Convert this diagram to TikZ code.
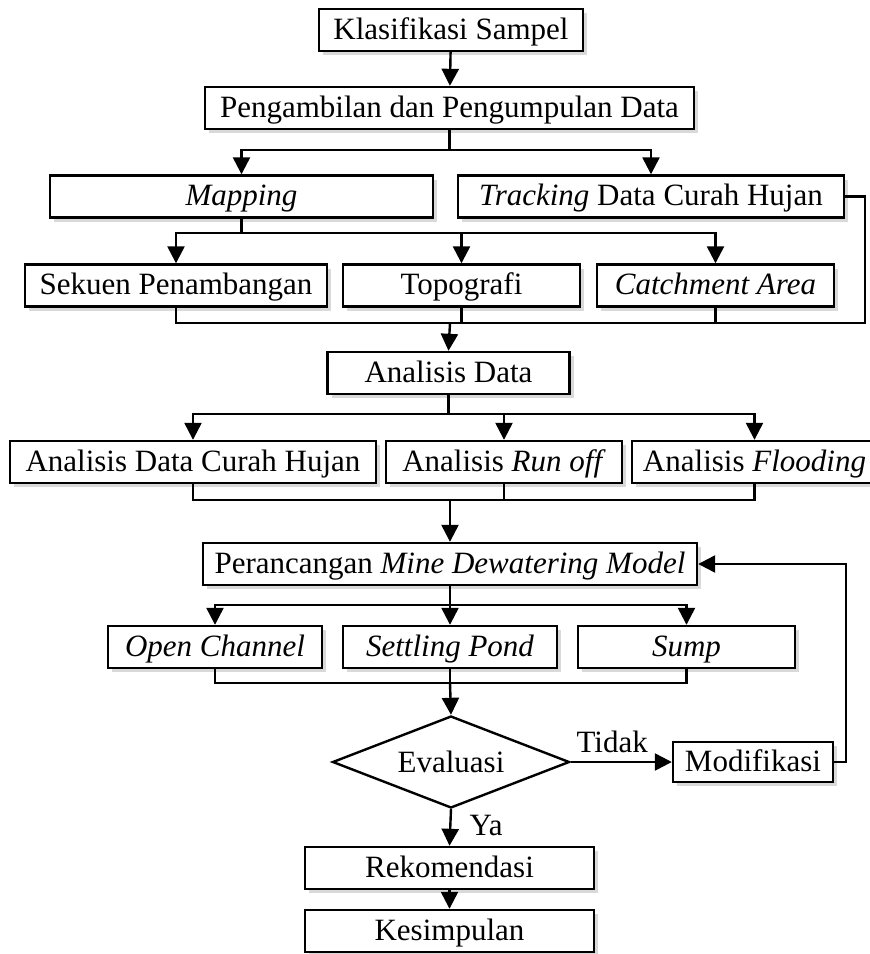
\documentclass[tikz,border=0pt]{standalone}
\usepackage{fontspec}
\setmainfont{Liberation Serif}
\usepackage{tikz}
\usetikzlibrary{arrows.meta,positioning,shapes.geometric,shadows,calc}
\newcommand{\istilah}[1]{\textit{#1}}
\tikzset{
  blok/.style={draw,line width=1.2pt,fill=white,align=center,minimum height=21pt,
    inner sep=2pt,text height=10.5pt,text depth=1.5pt,font=\fontsize{15.5}{18}\selectfont,
    drop shadow={shadow xshift=2pt,shadow yshift=-2pt,opacity=0.3}},
  keputusan/.style={diamond,draw,line width=1.2pt,fill=white,aspect=2.6,inner sep=0pt,
    minimum width=118.5pt,minimum height=46pt,font=\fontsize{15.5}{18}\selectfont},
  ln/.style={line width=1.2pt},
  fl/.style={ln,-{Triangle[length=8.5pt,width=8.5pt]}},
  lbl/.style={font=\fontsize{15.5}{18}\selectfont,inner sep=1pt},
}

\begin{document}
\begin{tikzpicture}[x=0.5pt,y=-0.5pt]
  \useasboundingbox (0,0) rectangle (869,954);
  \node[blok,minimum width=132pt] (klas) at (451,30) {Klasifikasi Sampel};
  \node[blok,minimum width=244.5pt] (peng) at (449.5,108) {Pengambilan dan Pengumpulan Data};
  \node[blok,minimum width=191.5pt] (map) at (241.5,196.5) {\istilah{Mapping}};
  \node[blok,minimum width=193pt] (track) at (651,196.5) {\istilah{Tracking} Data Curah Hujan};
  \node[blok,minimum width=151pt] (sekuen) at (176,285.5) {Sekuen Penambangan};
  \node[blok,minimum width=118.5pt] (topo) at (461.5,285.5) {Topografi};
  \node[blok,minimum width=118.5pt] (catch) at (715.5,285.5) {\istilah{Catchment Area}};
  \node[blok,minimum width=121pt] (adata) at (448.5,373) {Analisis Data};
  \node[blok,minimum width=183pt] (curah) at (193,462) {Analisis Data Curah Hujan};
  \node[blok,minimum width=118pt] (runoff) at (504,462) {Analisis \istilah{Run off}};
  \node[blok,minimum width=122.5pt] (flood) at (754.5,462) {Analisis \istilah{Flooding}};
  \node[blok,minimum width=247pt] (peran) at (450,564) {Perancangan \istilah{Mine Dewatering Model}};
  \node[blok,minimum width=107pt] (open) at (215,647) {\istilah{Open Channel}};
  \node[blok,minimum width=107pt] (settle) at (450,647) {\istilah{Settling Pond}};
  \node[blok,minimum width=108.5pt] (sump) at (686.5,647) {\istilah{Sump}};
  \node[keputusan] (eval) at (451,762) {Evaluasi};
  \node[blok,minimum width=80pt,minimum height=20pt] (modif) at (753,762) {Modifikasi};
  \node[blok,minimum width=144.5pt] (rekom) at (449.5,868) {Rekomendasi};
  \node[blok,minimum width=144.5pt] (kesim) at (449.5,931) {Kesimpulan};

  \coordinate (s1) at (449.5,150);
  \coordinate (s2) at (241.5,233);
  \coordinate (m1) at (450,323);
  \coordinate (s3) at (448.5,414);
  \coordinate (m2) at (450,500);
  \coordinate (s4) at (450,605);
  \coordinate (m3) at (450,683);

  \draw[fl] (klas) -- (peng);
  \draw[ln] (peng.south) -- (s1);
  \draw[fl] (s1) -| (map.north);
  \draw[fl] (s1) -| (track.north);
  \draw[ln] (map.south) -- (s2);
  \draw[fl] (s2) -| (sekuen.north);
  \draw[fl] (s2) -| (topo.north);
  \draw[fl] (s2) -| (catch.north);
  \draw[ln] (sekuen.south) |- (m1);
  \draw[ln] (topo.south) |- (m1);
  \draw[ln] (catch.south) |- (m1);
  \draw[ln] (track.east) -- ++(10pt,0) |- (m1);
  \draw[fl] (m1) -- (adata.north);
  \draw[ln] (adata.south) -- (s3);
  \draw[fl] (s3) -| (curah.north);
  \draw[fl] (s3) -| (runoff.north);
  \draw[fl] (s3) -| (flood.north);
  \draw[ln] (curah.south) |- (m2);
  \draw[ln] (runoff.south) |- (m2);
  \draw[ln] (flood.south) |- (m2);
  \draw[fl] (m2) -- (peran.north);
  \draw[ln] (peran.south) -- (s4);
  \draw[fl] (s4) -| (open.north);
  \draw[fl] (s4) -- (settle.north);
  \draw[fl] (s4) -| (sump.north);
  \draw[ln] (open.south) |- (m3);
  \draw[ln] (settle.south) -- (m3);
  \draw[ln] (sump.south) |- (m3);
  \draw[fl] (m3) -- (eval.north);
  \draw[fl] (eval.east) -- node[lbl,above,pos=0.41,yshift=3pt] {Tidak} (modif.west);
  \draw[fl] (modif.east) -- ++(6pt,0) |- (peran.east);
  \draw[fl] (eval.south) -- node[lbl,right,pos=0.45,xshift=8pt] {Ya} (rekom.north);
  \draw[fl] (rekom) -- (kesim);
\end{tikzpicture}
\end{document}
